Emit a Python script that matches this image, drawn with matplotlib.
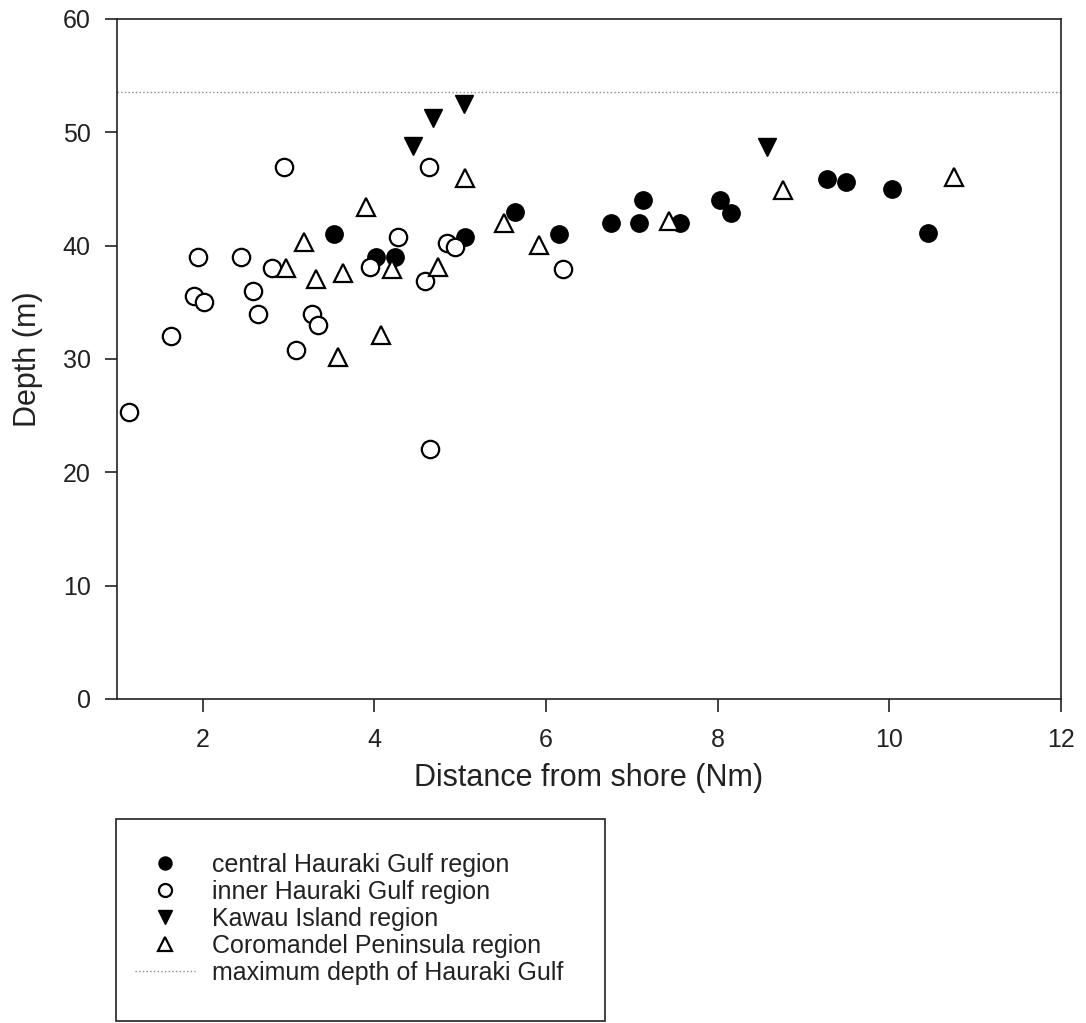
import matplotlib
matplotlib.use("Agg")
import matplotlib.pyplot as plt
from matplotlib.patches import Rectangle

plt.rcParams['font.family'] = ['Liberation Sans', 'DejaVu Sans']

# central Hauraki Gulf region
central_x = [3.53, 4.02, 4.24, 5.06, 5.64, 6.15, 6.76, 7.08, 7.13, 7.56, 8.03, 8.16, 9.27, 9.50, 10.03, 10.45]
central_y = [41.0, 39.0, 39.0, 40.8, 43.0, 41.0, 42.0, 42.0, 44.0, 42.0, 44.0, 42.9, 45.9, 45.6, 45.0, 41.1]

# inner Hauraki Gulf region
inner_x = [1.14, 1.63, 1.90, 1.94, 2.01, 2.45, 2.59, 2.64, 2.81, 2.95, 3.08, 3.27, 3.34,
           3.95, 4.28, 4.59, 4.64, 4.65, 4.84, 4.94, 6.20]
inner_y = [25.3, 32.0, 35.6, 39.0, 35.0, 39.0, 36.0, 34.0, 38.0, 46.9, 30.8, 34.0, 33.0,
           38.1, 40.8, 36.9, 46.9, 22.1, 40.2, 39.9, 37.9]

# Kawau Island region
kawau_x = [4.45, 4.68, 5.04, 8.57]
kawau_y = [48.8, 51.3, 52.5, 48.7]

# Coromandel Peninsula region
coro_x = [2.97, 3.18, 3.32, 3.57, 3.63, 3.90, 4.08, 4.20, 4.74, 5.06, 5.51, 5.92, 7.43, 8.76, 10.75]
coro_y = [38.0, 40.3, 37.1, 30.2, 37.6, 43.4, 32.1, 37.9, 38.1, 46.0, 42.0, 40.1, 42.2, 44.9, 46.1]

max_depth = 53.6

x_ticks = [2, 4, 6, 8, 10, 12]
y_ticks = [0, 10, 20, 30, 40, 50, 60]

fig = plt.figure(figsize=(10.86, 10.23), dpi=100)
ax = fig.add_axes([117 / 1086, 1 - 699 / 1023, (1061 - 117) / 1086, (699 - 19) / 1023])

ms = 12.5
ax.plot(central_x, central_y, 'o', color='black', ms=ms, ls='none',
        label='central Hauraki Gulf region')
ax.plot(inner_x, inner_y, 'o', mfc='white', mec='black', mew=1.6, ms=ms, ls='none',
        label='inner Hauraki Gulf region')
ax.plot(kawau_x, kawau_y, 'v', color='black', ms=ms, ls='none',
        label='Kawau Island region')
ax.plot(coro_x, coro_y, '^', mfc='white', mec='black', mew=1.6, ms=ms, ls='none',
        label='Coromandel Peninsula region')
ax.axhline(max_depth, color='#888888', ls=':', lw=1.0,
           label='maximum depth of Hauraki Gulf')

ax.set_xlim(1, 12)
ax.set_ylim(0, 60)
ax.set_xticks(x_ticks)
ax.set_yticks(y_ticks)
ax.tick_params(direction='out', length=9, width=1.2, labelsize=18, colors='#222222')
ax.tick_params(axis='x', pad=12)
ax.tick_params(axis='y', pad=10)
for s in ax.spines.values():
    s.set_linewidth(1.2)
    s.set_color('#222222')

ax.set_xlabel('Distance from shore (Nm)', fontsize=22, color='#222222', labelpad=8)
ax.set_ylabel('Depth (m)', fontsize=22, color='#222222', labelpad=14)

# legend box below the plot
fig.patches.append(Rectangle((116 / 1086, 1 - 1021 / 1023), (605 - 116) / 1086, (1021 - 819) / 1023,
                             transform=fig.transFigure, fill=False, ec='#222222', lw=1.2))
handles, labels = ax.get_legend_handles_labels()
fig.legend(handles, labels, loc='upper left', bbox_to_anchor=(135 / 1086, 1 - 853 / 1023),
           frameon=False, fontsize=18, markerscale=0.75, handlelength=2.4,
           handletextpad=0.7, labelspacing=0.12, borderpad=0, borderaxespad=0,
           labelcolor='#222222')

fig.savefig('out.png', dpi=100)
